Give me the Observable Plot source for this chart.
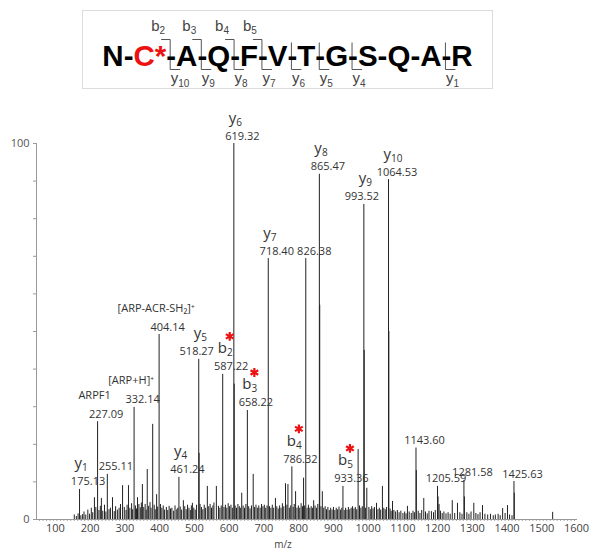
<!DOCTYPE html>
<html><head><meta charset="utf-8">
<script src="https://cdn.jsdelivr.net/npm/d3@7"></script>
<script src="https://cdn.jsdelivr.net/npm/@observablehq/plot@0.6"></script>
<style>body{margin:0;background:#fff;} #chart{width:601px;} svg{display:block;}</style>
</head><body><div id="chart"></div>
<script>
// ---- Peptide sequence and fragment coverage ----
const residues = ["N","C","A","Q","F","V","T","G","S","Q","A","R"];
const modifiedResidue = 2;            // C* (1-based)
const bFragments = [2,3,4,5];
const yFragments = [10,9,8,7,6,5,4,1];

// ---- Labelled peaks ----
const labelMz  = [175.13, 227.09, 255.11, 332.14, 404.14, 461.24, 518.27, 587.22, 619.32, 658.22, 718.40, 786.32, 826.38, 865.47, 933.36, 993.52, 1064.53, 1143.60, 1205.59, 1281.58, 1425.63];
const labelInt = [8.0, 26, 12, 29.8, 49.2, 11.2, 42.6, 38.6, 100, 29, 69.4, 14, 69.4, 91.8, 8.8, 83.8, 90.4, 19, 8.8, 10.4, 10.1];
const labelIon = ["y1","","","","","y4","y5","b2","y6","b3","y7","b4","","y8","b5","y9","y10","","","",""];
const labelNote = ["","ARPF1","","[ARP+H]⁺","[ARP-ACR-SH₂]⁺","","","","","","","","","","","","","","","",""];

// ---- Other unlabelled peaks ----
const otherMz  = [184, 218, 238, 270, 299, 316, 342, 356, 370, 385.7, 397, 474, 500, 519.3, 543, 569, 620.3, 642, 675, 739, 768, 775, 797, 820, 849, 866.5, 874, 977, 994.5, 1002, 1030, 1047, 1065.5, 1076, 1119, 1144.6, 1166, 1188, 1207, 1210, 1248, 1263, 1283, 1310, 1335, 1393, 1407, 1426.6, 1537];
const otherInt = [1.3, 5.8, 5.6, 5.8, 9, 9, 5.8, 9.3, 13.3, 25.3, 6.6, 5, 4.3, 17.6, 8.8, 8.8, 36, 7, 12, 5.6, 9.5, 9.3, 7.4, 11, 5, 57, 7.4, 18.6, 45, 8.3, 4.3, 8.8, 50, 4.8, 3.5, 13, 5.6, 2.1, 6, 4, 5, 4.3, 6, 4.3, 3.7, 2.9, 3.7, 7, 1.9];

// ---- Baseline noise peaks ----
const noiseMz = [160,166,171,179,188,193,199,204,209,213,222,231,235,242,247,251,260,264,275,279,284,289,293,304,309,312,320,325,328,336,339,346,350,353,360,364,367,374,378,381,390,393,400,408,412,416,420,425,429,433,437,441,446,450,455,458,465,469,478,482,486,490,494,497,504,508,512,522,526,530,534,538,547,551,555,559,562,575,579,583,591,595,599,603,607,611,615,623,627,631,635,638,646,650,654,662,666,670,679,683,687,691,695,699,703,707,711,715,722,726,730,734,743,747,751,755,759,763,772,779,783,790,793,801,805,809,813,817,823,830,834,838,842,846,853,857,861,870,878,882,886,890,894,898,902,906,910,914,918,922,926,930,937,941,945,949,953,957,961,965,969,973,981,985,989,998,1008,1012,1016,1020,1024,1034,1038,1042,1051,1055,1059,1069,1072,1080,1085,1090,1095,1100,1106,1111,1115,1124,1130,1135,1139,1150,1155,1160,1171,1176,1181,1194,1199,1214,1219,1224,1230,1236,1242,1255,1270,1276,1290,1296,1302,1316,1322,1328,1342,1350,1358,1366,1372,1380,1386,1400,1413,1420];
const noiseInt = [1.2,0.8,1.5,1.0,2.0,1.2,2.5,1.4,3.0,1.8,3.2,2.4,3.5,2.2,3.8,2.0,2.6,3.0,2.1,3.4,2.5,3.0,4.0,3.2,2.4,3.8,3.0,4.2,2.6,3.6,2.8,4.0,3.1,4.4,3.2,4.0,2.5,3.5,4.5,3.0,3.8,2.6,3.3,4.0,3.0,3.6,2.5,3.2,2.4,3.5,2.8,3.0,2.2,3.6,2.6,3.0,3.3,2.5,3.4,2.6,3.8,3.0,2.4,3.6,3.0,2.5,3.8,4.0,3.2,2.6,3.8,3.0,3.4,4.0,3.0,3.6,4.4,3.5,3.0,3.6,3.2,3.8,3.0,4.2,3.4,3.8,3.0,3.6,3.0,4.0,3.4,3.0,3.6,3.0,4.0,3.4,2.8,3.6,3.2,3.8,3.0,3.6,3.0,4.0,3.4,3.8,3.0,3.6,3.4,3.0,3.8,3.0,3.4,2.8,3.6,3.0,4.2,3.4,3.8,3.0,3.6,3.2,4.0,3.0,3.6,3.0,4.2,3.4,3.6,3.0,3.8,3.0,3.4,3.0,3.6,3.0,4.0,3.4,3.0,3.4,2.6,3.2,2.4,3.0,2.5,3.2,2.4,3.0,2.6,3.3,2.5,3.0,2.4,3.0,2.5,3.2,2.6,3.0,3.4,2.8,3.2,2.6,3.6,3.0,3.4,3.0,3.2,2.6,3.4,2.8,3.2,2.6,3.0,2.5,3.0,2.6,3.2,2.8,2.2,2.4,2.0,2.4,1.8,2.2,1.6,2.0,1.5,2.0,1.6,2.2,1.8,2.2,1.6,2.4,2.0,1.5,2.2,1.8,2.4,2.2,1.6,2.0,1.5,1.8,1.4,1.6,1.8,1.4,1.8,1.4,2.0,1.6,1.3,1.8,1.4,1.2,1.4,1.0,1.2,1.4,1.0,1.6,1.2,1.0];

// ---- Axis ticks ----
const xMajorTicks = d3.range(100, 1601, 100);
const xMinorTicks = d3.range(60, 1601, 10);
const yTicks = d3.range(0, 101, 10);
const xDomain = [51.24, 1608.5];

// ================= Header: peptide =================
const ctx = document.createElement("canvas").getContext("2d");
const seqFontSize = 29.5;
ctx.font = `bold ${seqFontSize}px 'Liberation Sans'`;
const tokens = [];
residues.forEach((r, i) => {
  tokens.push({t: r, red: i + 1 === modifiedResidue});
  if (i + 1 === modifiedResidue) tokens.push({t: "*", red: true});
  if (i < residues.length - 1) tokens.push({t: "-", bond: i + 1});
});
let cum = 0;
tokens.forEach(d => { d.w = ctx.measureText(d.t).width; d.x0 = cum; cum += d.w; });
const boxW = 410;
const off = (boxW - cum) / 2;
tokens.forEach(d => { d.x = off + d.x0; d.cx = d.x + d.w / 2; });
const nRes = residues.length;
const bonds = tokens.filter(d => d.bond).map(d => ({
  k: d.bond, x: d.cx - 1,
  b: bFragments.includes(d.bond) ? d.bond : null,
  y: yFragments.includes(nRes - d.bond) ? nRes - d.bond : null
})).filter(d => d.b || d.y);

const segs = [];
bonds.forEach(d => {
  if (d.b) {
    segs.push({x1: d.x - 9, y1: 29, x2: d.x, y2: 29});
    segs.push({x1: d.x, y1: 29, x2: d.x, y2: d.y ? 59 : 50});
  }
  if (d.y) {
    if (!d.b) segs.push({x1: d.x, y1: 32, x2: d.x, y2: 59});
    segs.push({x1: d.x, y1: 59, x2: d.x + 10, y2: 59});
  }
});
const bLabels = bonds.filter(d => d.b);
const yLabels = bonds.filter(d => d.y);

ctx.font = "15px 'Liberation Sans'";
const hdrBW = ctx.measureText("b").width, hdrYW = ctx.measureText("y").width;

const header = Plot.plot({
  width: 601, height: 95,
  marginLeft: 82, marginRight: 109, marginTop: 10, marginBottom: 7,
  x: {domain: [0, boxW], axis: null},
  y: {domain: [0, 78], reverse: true, axis: null},
  style: {fontFamily: "'Liberation Sans', Arial, sans-serif", background: "white"},
  marks: [
    Plot.frame({stroke: "#dcdcdc"}),
    Plot.link(segs, {x1: "x1", y1: "y1", x2: "x2", y2: "y2", stroke: "#555", strokeWidth: 1}),
    Plot.text(tokens, {x: "x", y: 55, text: "t", textAnchor: "start", lineAnchor: "bottom",
      fontSize: seqFontSize, fontWeight: "bold", fill: d => d.red ? "#ee1111" : "#000"}),
    Plot.text(bLabels, {x: d => d.x - 19, y: 20, text: () => "b", textAnchor: "start", lineAnchor: "bottom", fontSize: 15, fill: "#444"}),
    Plot.text(bLabels, {x: d => d.x - 19 + hdrBW, y: 23, text: d => String(d.b), textAnchor: "start", lineAnchor: "bottom", fontSize: 10, fill: "#444"}),
    Plot.text(yLabels, {x: d => d.x + 0.5, y: 72, text: () => "y", textAnchor: "start", lineAnchor: "bottom", fontSize: 15, fill: "#444"}),
    Plot.text(yLabels, {x: d => d.x + 0.5 + hdrYW, y: 76, text: d => String(d.y), textAnchor: "start", lineAnchor: "bottom", fontSize: 10, fill: "#444"})
  ]
});

// ================= Spectrum =================
const pxPerMz = (577 - 36) / (xDomain[1] - xDomain[0]);
const labelled = labelMz.map((mz, i) => ({mz, h: labelInt[i], ion: labelIon[i], note: labelNote[i], txt: mz.toFixed(2)}));
// a value label moves left when the next labelled peak (of similar height) sits right beside it
labelled.forEach((d, i) => {
  const n = labelled[i + 1];
  d.crowded = !!(n && (n.mz - d.mz) * pxPerMz < 25 && Math.abs(n.h - d.h) < 10);
});
const others = otherMz.map((mz, i) => ({mz, h: otherInt[i]}));
const noise = noiseMz.map((mz, i) => ({mz, h: noiseInt[i]}));
const allPeaks = [...noise, ...others, ...labelled];
ctx.font = "15px 'Open Sans'";
const ionLetterW = {b: ctx.measureText("b").width, y: ctx.measureText("y").width};
const ions = labelled.filter(d => d.ion).map(d => ({...d, type: d.ion[0], num: d.ion.slice(1)}));
const bIons = ions.filter(d => d.type === "b");
const yIons = ions.filter(d => d.type === "y");
const notes = labelled.filter(d => d.note);

const spectrum = Plot.plot({
  width: 601, height: 459,
  marginLeft: 36, marginRight: 24, marginTop: 48, marginBottom: 35,
  x: {domain: xDomain},
  y: {domain: [0, 100]},
  style: {fontFamily: "'Open Sans', sans-serif", fontSize: "11px", color: "#333", background: "white"},
  marks: [
    Plot.axisX(xMinorTicks, {tickSize: 2, stroke: "#aaa", tickFormat: () => "", label: null}),
    Plot.axisX(xMajorTicks, {tickSize: 0, tickPadding: 5, dx: 2, fill: "#444", label: null, fontSize: 11, tickFormat: d => String(d)}),
    Plot.axisY(yTicks, {tickSize: 3, tickPadding: 4, stroke: "#999", fill: "#555", label: null, fontSize: 11,
      tickFormat: d => (d === 0 || d === 100) ? String(d) : ""}),
    Plot.ruleX([xDomain[0]], {y1: 0, y2: 100, stroke: "#999"}),
    Plot.ruleY([0], {stroke: "#999"}),
    Plot.ruleX(allPeaks, {x: "mz", y1: 0, y2: "h", stroke: "#222", strokeWidth: 1}),
    Plot.text(labelled.filter(d => !d.crowded), {x: "mz", y: "h", text: "txt", dx: 8.5, dy: -4, lineAnchor: "bottom", fontSize: 11, fill: "#333"}),
    Plot.text(labelled.filter(d => d.crowded), {x: "mz", y: "h", text: "txt", dx: -2, dy: -4, lineAnchor: "bottom", fontSize: 11, fill: "#333"}),
    Plot.text(ions, {x: "mz", y: "h", text: "type", textAnchor: "start", lineAnchor: "bottom", dx: -5, dy: -21, fontSize: 15, fill: "#333"}),
    Plot.text(bIons, {x: "mz", y: "h", text: "num", textAnchor: "start", lineAnchor: "bottom", dx: -5 + ionLetterW.b, dy: -18, fontSize: 10, fill: "#333"}),
    Plot.text(yIons, {x: "mz", y: "h", text: "num", textAnchor: "start", lineAnchor: "bottom", dx: -5 + ionLetterW.y, dy: -18, fontSize: 10, fill: "#333"}),
    Plot.dot(bIons, {x: "mz", y: "h", symbol: "asterisk", r: 4.2, dx: 7, dy: -38, stroke: "#ee1111", strokeWidth: 2.2}),
    Plot.text(notes, {x: "mz", y: "h", text: "note", dx: -3, dy: -23, lineAnchor: "bottom", fontSize: 11, fill: "#333"}),
    Plot.text(["m/z"], {frameAnchor: "bottom", dx: -24, dy: 28, fontSize: 10, fill: "#444"})
  ]
});

const root = document.getElementById("chart");
root.appendChild(header);
root.appendChild(spectrum);
</script>
</body></html>
